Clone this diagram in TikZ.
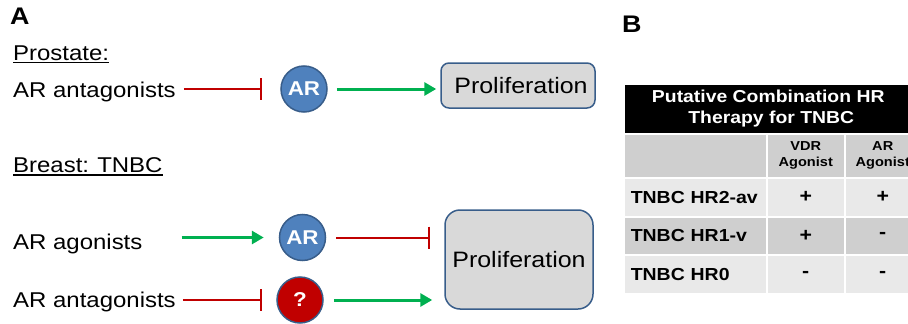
\documentclass[tikz,border=0pt]{standalone}
\usepackage{fontspec}
\setmainfont{Liberation Sans}[FakeStretch=1.12]
\usetikzlibrary{positioning, arrows.meta}

\definecolor{arblue}{HTML}{4F81BD}
\definecolor{arborder}{HTML}{385D8A}
\definecolor{argreen}{HTML}{00B050}
\definecolor{arred}{HTML}{C00000}
\definecolor{boxgray}{HTML}{D9D9D9}
\definecolor{celldark}{HTML}{CFCFCF}
\definecolor{celllight}{HTML}{E9E9E9}

\begin{document}
\begin{tikzpicture}[x=1pt, y=-1pt,
                    panel/.style={font=\fontsize{24}{28}\selectfont\bfseries, inner sep=0pt, anchor=base west},
                    agent/.style={font=\fontsize{21.4}{24}\selectfont, inner sep=0pt, anchor=base west},
                    underlined/.style={line width=1.6pt},
                    receptor/.style={circle, draw=arborder, line width=1.5pt, fill=arblue, minimum size=46pt, inner sep=0pt, text=white, font=\fontsize{20}{22}\selectfont\bfseries},
                    outcome/.style={rectangle, draw=arborder, line width=1.5pt, fill=boxgray, font=\fontsize{22.3}{26}\selectfont},
                    activates/.style={draw=argreen, line width=3pt, -{Triangle[length=12pt, width=13pt]}},
                    inhibits/.style={draw=arred, line width=2pt, -{Bar[width=22pt]}},
                    cell/.style={rectangle, draw=white, line width=1.5pt, anchor=north west, inner sep=0pt, font=\fontsize{17.4}{20}\selectfont\bfseries},
                    rowlabel/.style={cell, minimum width=143pt, text width=129pt, inner xsep=7pt, align=left},
                    mark1/.style={cell, minimum width=78pt, font=\fontsize{19}{20}\selectfont\bfseries},
                    mark2/.style={cell, minimum width=76pt, font=\fontsize{19}{20}\selectfont\bfseries}]

    \useasboundingbox (0,0) rectangle (908,324);
    \clip (0,0) rectangle (908,324);

    % Panel A: prostate
    \node[panel] (lblA) at (10,24) {A};
    \node[agent] (prostate) at (13,60) {Prostate:};
    \node[agent] (antag1) at (13,97) {AR antagonists};
    \node[receptor] (ar1) at (304,89) {AR};
    \node[outcome, rounded corners=8pt, minimum width=154pt, minimum height=45pt] (prolif1) at (518,85.5) {\hspace*{6pt}Proliferation};

    % Panel A: breast
    \node[agent] (breast) at (13,172.5) {Breast:\ \hspace{1.5pt}TNBC};
    \node[agent] (agon) at (13,249) {AR agonists};
    \node[agent] (antag2) at (13,307) {AR antagonists};
    \node[receptor] (ar2) at (302.5,237.5) {AR};
    \node[receptor, fill=arred] (unk) at (300,300) {?};
    \node[outcome, rounded corners=15pt, minimum width=148pt, minimum height=99pt] (prolif2) at (519,259.5) {Proliferation};

    % Underlines
    \draw[underlined] ([yshift=-2.3pt]prostate.base west) -- ([yshift=-2.3pt]prostate.base east);
    \draw[underlined] ([yshift=-2.3pt]breast.base west) -- ([yshift=-2.3pt]breast.base east);

    % Paths
    \draw[inhibits, shorten <=8pt, shorten >=18pt] (antag1.east |- ar1) -- (ar1);
    \draw[activates, shorten <=9pt, shorten >=4pt] (ar1) -- (prolif1.west |- ar1);
    \draw[activates, shorten <=39pt, shorten >=15pt] (agon.east |- ar2) -- (ar2);
    \draw[inhibits, shorten <=10pt, shorten >=14pt] (ar2) -- (prolif2.west |- ar2);
    \draw[inhibits, shorten <=7pt, shorten >=14pt] (antag2.east |- unk) -- (unk);
    \draw[activates, shorten <=10pt, shorten >=12pt] (unk) -- (prolif2.west |- unk);

    % Panel B: table
    \node[panel] (lblB) at (622,32) {B};
    \node[cell, fill=black, text=white, minimum width=297pt, minimum height=50pt, align=center, font=\fontsize{17.3}{21}\selectfont\bfseries] (thead) at (623,83) {Putative Combination HR\hspace*{8pt}\\Therapy for TNBC\hspace*{2pt}};

    \node[cell, fill=celldark, minimum width=143pt, minimum height=44pt] (corner) at (623,133) {};
    \node[cell, fill=celldark, minimum width=78pt, minimum height=44pt, align=center, font=\fontsize{13}{16}\selectfont\bfseries] (vdr) at (766,133) {VDR\\Agonist};
    \node[cell, fill=celldark, minimum width=76pt, minimum height=44pt, align=center, font=\fontsize{13}{16}\selectfont\bfseries] (ar) at (844,133) {AR\\Agonist};

    \node[rowlabel, fill=celllight, minimum height=39pt] (hrtwo) at (623,177) {TNBC HR2-av};
    \node[mark1, fill=celllight, minimum height=39pt] (hrtwovdr) at (766,177) {+};
    \node[mark2, fill=celllight, minimum height=39pt] (hrtwoar) at (844,177) {+};

    \node[rowlabel, fill=celldark, minimum height=38pt] (hrone) at (623,216) {TNBC HR1-v};
    \node[mark1, fill=celldark, minimum height=38pt] (hronevdr) at (766,216) {+};
    \node[mark2, fill=celldark, minimum height=38pt] (hronear) at (844,216) {-};

    \node[rowlabel, fill=celllight, minimum height=39pt] (hrzero) at (623,254) {TNBC HR0};
    \node[mark1, fill=celllight, minimum height=39pt] (hrzerovdr) at (766,254) {-};
    \node[mark2, fill=celllight, minimum height=39pt] (hrzeroar) at (844,254) {-};

\end{tikzpicture}
\end{document}
